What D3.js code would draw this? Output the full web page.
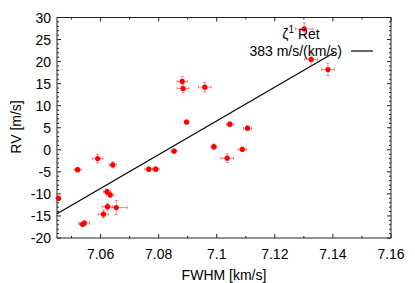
<!DOCTYPE html>
<html>
<head>
<meta charset="utf-8">
<script src="https://cdn.jsdelivr.net/npm/d3@7"></script>
<style>
  body { margin: 0; background: #fff; }
  text { font-family: "Liberation Sans", Arial, sans-serif; }
</style>
</head>
<body>
<svg id="chart" width="415" height="283"></svg>
<script>
// FWHM [km/s], RV [m/s] and their errors
const fwhm  = [7.0455, 7.0521, 7.0590, 7.0642, 7.0622, 7.0633, 7.0624, 7.0654, 7.0610, 7.0538, 7.0544,
               7.0766, 7.0790, 7.0853, 7.0990, 7.1036, 7.1088, 7.0881, 7.0884, 7.0959, 7.0896, 7.1045,
               7.1106, 7.1301, 7.1325, 7.1383];
const rv    = [-11.0, -4.5, -2.0, -3.4, -9.5, -10.2, -12.9, -13.1, -14.6, -16.9, -16.6,
               -4.4, -4.4, -0.3, 0.7, -1.9, 0.1, 15.5, 13.9, 14.2, 6.3, 5.8,
               4.9, 27.4, 20.5, 18.2];
const fwhmErr = [0.0008, 0.0012, 0.0018, 0.0012, 0.0012, 0.0012, 0.0018, 0.0038, 0.0018, 0.0012, 0.0018,
                 0.0014, 0.0012, 0.0010, 0.0010, 0.0022, 0.0014, 0.0018, 0.0020, 0.0022, 0.0008, 0.0012,
                 0.0014, 0.0030, 0.0022, 0.0022];
const rvErr = [0.5, 0.5, 1.0, 0.7, 0.6, 0.6, 0.8, 1.6, 0.9, 0.5, 0.5,
               0.5, 0.5, 0.5, 0.6, 1.0, 0.5, 1.1, 1.0, 1.1, 0.5, 0.5,
               0.5, 1.4, 1.4, 1.4];
const fitX = [7.045, 7.1405];
const slope = 383, intercept = -14.5; // RV at FWHM = 7.045
const xTicks = [7.06, 7.08, 7.1, 7.12, 7.14, 7.16];
const yTicks = [-20, -15, -10, -5, 0, 5, 10, 15, 20, 25, 30];

const svg = d3.select("#chart");
const L = 57, R = 391, T = 17.5, B = 238;

const x = d3.scaleLinear().domain([7.045, 7.16]).range([L, R]);
const y = d3.scaleLinear().domain([-20, 30]).range([B, T]);

const axisCol = "#222";

// major / minor ticks on all sides
const xMinor = d3.range(7.05, 7.1601, 0.01).filter(v => xTicks.every(t => Math.abs(t - v) > 1e-6));
const yMinor = d3.range(-20, 30.01, 1).filter(v => v % 5 !== 0);

function xt(vals, len) {
  vals.forEach(v => {
    svg.append("line").attr("x1", x(v)).attr("x2", x(v)).attr("y1", B).attr("y2", B - len).attr("stroke", axisCol);
    svg.append("line").attr("x1", x(v)).attr("x2", x(v)).attr("y1", T).attr("y2", T + len).attr("stroke", axisCol);
  });
}
function yt(vals, len) {
  vals.forEach(v => {
    svg.append("line").attr("y1", y(v)).attr("y2", y(v)).attr("x1", L).attr("x2", L + len).attr("stroke", axisCol);
    svg.append("line").attr("y1", y(v)).attr("y2", y(v)).attr("x1", R).attr("x2", R - len).attr("stroke", axisCol);
  });
}
xt(xTicks, 4); xt(xMinor, 2);
yt(yTicks, 4); yt(yMinor, 2);

svg.append("rect").attr("x", L).attr("y", T).attr("width", R - L).attr("height", B - T)
  .attr("fill", "none").attr("stroke", axisCol).attr("stroke-width", 1);

svg.selectAll(".xl").data(xTicks).enter().append("text")
  .attr("x", d => x(d)).attr("y", 259).attr("text-anchor", "middle")
  .attr("font-size", 14).text(d => d3.format("")(d));
svg.selectAll(".yl").data(yTicks).enter().append("text")
  .attr("x", 51).attr("y", d => y(d) + 5).attr("text-anchor", "end")
  .attr("font-size", 14).text(d => d);

svg.append("text").attr("x", (L + R) / 2).attr("y", 280).attr("text-anchor", "middle")
  .attr("font-size", 14).text("FWHM [km/s]");
svg.append("text").attr("transform", "translate(21,127) rotate(-90)").attr("text-anchor", "middle")
  .attr("font-size", 14).text("RV [m/s]");

// fit line
svg.append("line")
  .attr("x1", x(fitX[0])).attr("y1", y(intercept))
  .attr("x2", x(fitX[1])).attr("y2", y(intercept + slope * (fitX[1] - fitX[0])))
  .attr("stroke", "#000").attr("stroke-width", 1.2);

// error bars
const eb = svg.append("g").attr("stroke", "rgba(255,40,40,0.55)").attr("stroke-width", 1);
fwhm.forEach((f, i) => {
  const cx = x(f), cy = y(rv[i]);
  const x0 = x(f - fwhmErr[i]), x1 = x(f + fwhmErr[i]);
  const y0 = y(rv[i] - rvErr[i]), y1 = y(rv[i] + rvErr[i]);
  eb.append("line").attr("x1", x0).attr("x2", x1).attr("y1", cy).attr("y2", cy);
  eb.append("line").attr("x1", x0).attr("x2", x0).attr("y1", cy - 1.5).attr("y2", cy + 1.5);
  eb.append("line").attr("x1", x1).attr("x2", x1).attr("y1", cy - 1.5).attr("y2", cy + 1.5);
  eb.append("line").attr("x1", cx).attr("x2", cx).attr("y1", y0).attr("y2", y1);
  eb.append("line").attr("x1", cx - 1.5).attr("x2", cx + 1.5).attr("y1", y0).attr("y2", y0);
  eb.append("line").attr("x1", cx - 1.5).attr("x2", cx + 1.5).attr("y1", y1).attr("y2", y1);
});

svg.selectAll(".pt").data(fwhm).enter().append("circle")
  .attr("cx", d => x(d)).attr("cy", (d, i) => y(rv[i])).attr("r", 2.6).attr("fill", "#ff0000");

// legend
const lg = svg.append("text").attr("x", 301).attr("y", 39).attr("text-anchor", "middle").attr("font-size", 14);
lg.append("tspan").text("ζ");
lg.append("tspan").attr("font-size", 10).attr("dy", -6).text("1");
lg.append("tspan").attr("dy", 6).text(" Ret");
svg.append("text").attr("x", 342).attr("y", 56).attr("text-anchor", "end").attr("font-size", 14)
  .text("383 m/s/(km/s)");
svg.append("line").attr("x1", 351).attr("x2", 373).attr("y1", 51).attr("y2", 51)
  .attr("stroke", "#000").attr("stroke-width", 1.2);
</script>
</body>
</html>
